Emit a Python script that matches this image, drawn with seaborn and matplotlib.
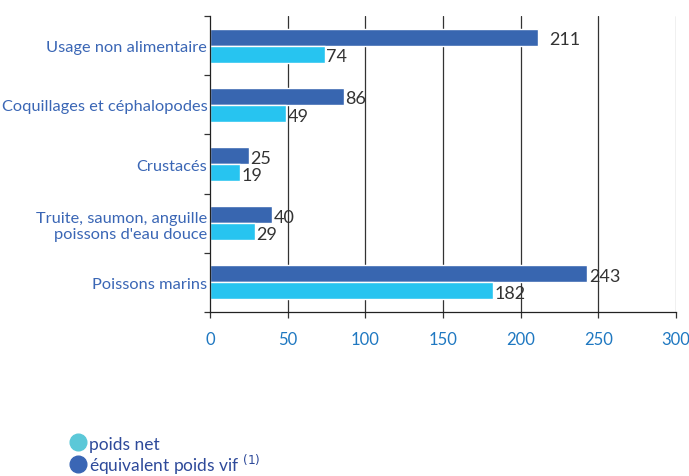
import matplotlib
matplotlib.use('Agg')
import matplotlib.pyplot as plt
import numpy as np
import pandas as pd
import seaborn as sns
from matplotlib.lines import Line2D

categories = ['Usage non alimentaire', 'Coquillages et céphalopodes', 'Crustacés',
              'Truite, saumon, anguille\npoissons d\'eau douce', 'Poissons marins']
poids_vif = [211, 86, 25, 40, 243]
poids_net = [74, 49, 19, 29, 182]
series = ['équivalent poids vif', 'poids net']
x_ticks = [0, 50, 100, 150, 200, 250, 300]

df = pd.DataFrame({
    'categorie': categories * 2,
    'valeur': poids_vif + poids_net,
    'serie': [series[0]] * len(categories) + [series[1]] * len(categories),
})

sns.set_style('white')
plt.rcParams['font.family'] = ['Lato', 'DejaVu Sans']

fig = plt.figure(figsize=(6.89, 4.77), dpi=100)
ax = fig.add_axes([0.305, 0.344, 0.676, 0.62])

sns.barplot(data=df, y='categorie', x='valeur', hue='serie', hue_order=series,
            order=categories, orient='h', width=0.58,
            palette={series[0]: '#3866b0', series[1]: '#27c4f0'},
            saturation=1, ax=ax, legend=False)

for cont in ax.containers:
    for rect in cont:
        v = rect.get_width()
        pad = 8 if v == 211 else 1
        ax.annotate(f'{int(v)}', (v, rect.get_y() + rect.get_height() / 2),
                    xytext=(pad, -1.5), textcoords='offset points',
                    ha='left', va='center', fontsize=13, color='#333333')

ax.set_xlim(0, 300)
ax.set_ylim(len(categories) - 0.5, -0.5)
ax.set_xticks(x_ticks)
ax.set_xlabel('')
ax.set_ylabel('')
for x in x_ticks[1:]:
    ax.axvline(x, color='#888888' if x == 300 else '#333333', lw=0.9, zorder=0)

ax.set_yticks(np.arange(-0.5, len(categories), 1.0), minor=True)
ax.tick_params(axis='y', which='major', length=0, pad=2, labelsize=11.8, labelcolor='#3a66b5')
ax.tick_params(axis='y', which='minor', length=4, width=0.9, color='#333333', direction='out', left=True)
ax.tick_params(axis='x', which='major', length=4, width=0.9, color='#333333', direction='out',
               bottom=True, pad=10, labelsize=12, labelcolor='#1f78c1')

for s in ['top', 'right']:
    ax.spines[s].set_visible(False)
for s in ['left', 'bottom']:
    ax.spines[s].set_color('#222222')
    ax.spines[s].set_linewidth(0.9)

handles = [Line2D([], [], marker='o', ls='', markersize=12, color='#5bc8d8'),
           Line2D([], [], marker='o', ls='', markersize=12, color='#3a66b5')]
fig.legend(handles, ['poids net', 'équivalent poids vif $^{(1)}$'], loc='lower left',
           bbox_to_anchor=(0.088, -0.014), frameon=False, fontsize=12.5,
           labelcolor='#2e4a9a', handletextpad=0.05, labelspacing=0.0,
           handlelength=1.2, borderaxespad=0)

fig.savefig('out.png', dpi=100)
